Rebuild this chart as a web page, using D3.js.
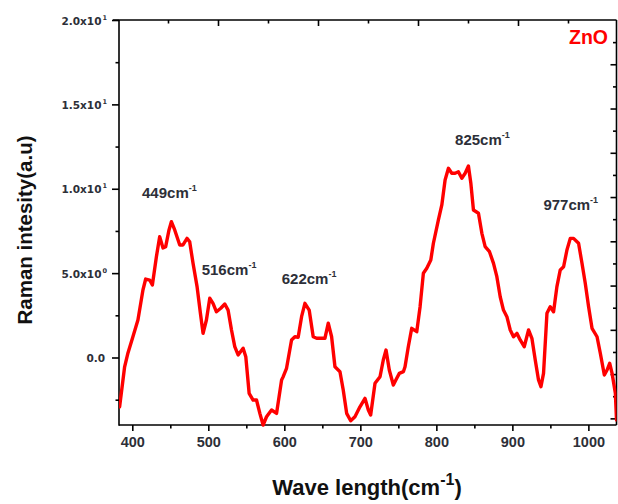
<!DOCTYPE html>
<html>
<head>
<meta charset="utf-8">
<script src="https://cdn.jsdelivr.net/npm/d3@7"></script>
<style>
  html, body { margin: 0; padding: 0; background: #fff; }
  svg { display: block; }
</style>
</head>
<body>
<svg id="chart" width="618" height="504"></svg>
<script>
// ---- data ----
const wavenumber = [383.3, 389.9, 394.3, 400.8, 407.4, 414.0, 417.6, 422.8, 426.4, 431.7, 436.0, 440.4, 443.9, 448.3, 451.4, 455.8, 462.4, 466.7, 472.0, 475.5, 479.9, 485.2, 489.6, 493.1, 497.5, 501.9, 506.2, 510.7, 516.4, 521.7, 526.0, 530.5, 534.8, 539.2, 545.8, 549.3, 553.7, 558.9, 563.4, 567.8, 572.1, 576.6, 583.2, 589.8, 596.4, 598.5, 602.9, 609.5, 613.9, 618.2, 622.7, 627.1, 632.7, 638.0, 642.5, 649.1, 653.4, 657.8, 662.2, 666.6, 673.2, 677.5, 682.0, 687.3, 692.9, 699.5, 706.1, 710.5, 713.6, 719.3, 725.9, 730.2, 733.8, 738.1, 743.4, 747.9, 751.3, 756.6, 758.8, 763.1, 767.6, 774.2, 778.6, 782.9, 787.4, 792.7, 796.1, 802.7, 807.2, 811.5, 815.9, 820.3, 824.7, 829.0, 833.5, 837.9, 842.2, 845.4, 848.8, 855.4, 859.9, 864.2, 869.9, 875.2, 879.6, 884.0, 888.3, 892.8, 897.2, 901.5, 906.0, 910.3, 915.6, 921.3, 925.7, 930.1, 934.4, 937.6, 941.0, 945.5, 949.8, 954.2, 958.6, 963.0, 967.4, 971.8, 976.2, 980.5, 987.1, 991.6, 995.9, 1000.3, 1004.8, 1011.4, 1015.7, 1021.0, 1024.6, 1028.0, 1031.2, 1035.5, 1037.0];
const intensity = [-2.92, -0.55, 0.27, 1.23, 2.22, 4.00, 4.65, 4.59, 4.30, 5.97, 7.16, 6.49, 6.57, 7.56, 8.05, 7.56, 6.67, 6.67, 7.06, 6.86, 5.58, 4.20, 2.62, 1.43, 2.22, 3.51, 3.21, 2.71, 2.92, 3.17, 2.81, 1.63, 0.64, 0.15, 0.55, 0.05, -2.12, -2.52, -2.52, -3.31, -4.00, -3.51, -3.11, -3.31, -1.33, -1.14, -0.64, 1.04, 1.23, 1.20, 2.42, 3.21, 2.81, 1.23, 1.14, 1.14, 1.14, 2.03, 1.23, -0.55, -0.84, -1.93, -3.31, -3.75, -3.51, -2.92, -2.42, -3.11, -3.41, -1.53, -1.14, -0.15, 0.44, -0.74, -1.63, -1.23, -0.94, -0.84, -0.55, 0.64, 1.73, 1.53, 3.01, 4.99, 5.29, 5.78, 6.77, 8.15, 9.04, 10.52, 11.21, 10.92, 10.92, 11.01, 10.62, 10.92, 11.35, 10.32, 8.74, 8.55, 7.36, 6.57, 6.27, 5.58, 4.79, 3.60, 2.81, 2.42, 1.63, 1.23, 1.43, 1.04, 0.64, 1.63, 1.14, -0.15, -1.33, -1.73, -0.94, 2.62, 3.01, 2.71, 4.20, 5.19, 5.38, 6.37, 7.06, 7.06, 6.77, 5.58, 4.40, 3.01, 1.73, 1.23, 0.25, -1.04, -0.74, -0.34, -0.94, -2.12, -3.70];

const xTickValues = [400, 500, 600, 700, 800, 900, 1000];
const xMinorTicks = [450, 550, 650, 750, 850, 950];
const yTickValues = [0, 5, 10, 15, 20];
const yTickMantissa = ["0.0", "5.0", "1.0", "1.5", "2.0"];
const yTickExponent = [null, "0", "1", "1", "1"];
const yMinorTicks = [-2.5, 2.5, 7.5, 12.5, 17.5];

const peakLabels = ["449", "516", "622", "825", "977"];
const peakLabelX = [412.8, 491.3, 596.6, 824.6, 940.8];
const peakLabelY = [9.45, 4.89, 4.36, 12.59, 8.74];

const seriesName = "ZnO";
const xTitle = "Wave length(cm";
const yTitle = "Raman intesity(a.u)";

// ---- layout ----
const svg = d3.select("#chart");
const L = 119, R = 616.5, T = 20, B = 425;

const x = d3.scaleLinear().domain([382.5, 1037]).range([L, R]);
const y = d3.scaleLinear().domain([-4, 20]).range([B, T]);
// secondary (unlabelled) top/right axes as drawn by the original software
const xTop = d3.scaleLinear().domain([0, 10]).range([118, 618]);
const yRight = d3.scaleLinear().domain([0, 18.3]).range([T, B]);

const axisColor = "#000";
const labelColor = "#2d2f38";

svg.append("defs").append("clipPath").attr("id", "clip")
  .append("rect").attr("x", L).attr("y", T - 2).attr("width", R - L).attr("height", B - T + 4);

// frame
const frame = svg.append("g").attr("stroke", axisColor).attr("stroke-width", 1.6).attr("fill", "none");
frame.append("line").attr("x1", L).attr("x2", L).attr("y1", T).attr("y2", B + 0.8);
frame.append("line").attr("x1", L).attr("x2", R).attr("y1", B).attr("y2", B);
frame.append("line").attr("x1", L - 6).attr("x2", R).attr("y1", T).attr("y2", T);
frame.append("line").attr("x1", R).attr("x2", R).attr("y1", T).attr("y2", B);

// bottom axis
const bottomAx = svg.append("g").attr("transform", `translate(0,${B})`)
  .call(d3.axisBottom(x).tickValues(xTickValues).tickSize(6).tickPadding(6).tickFormat(d3.format("d")));
bottomAx.select(".domain").remove();
bottomAx.selectAll(".tick line").attr("stroke-width", 1.6).attr("stroke", axisColor);
bottomAx.selectAll(".tick text").attr("font-family", "Liberation Sans, Arial, sans-serif")
  .attr("font-size", 14.5).attr("font-weight", "bold").attr("fill", labelColor).attr("dy", "0.72em");
const bMinor = svg.append("g").attr("transform", `translate(0,${B})`)
  .call(d3.axisBottom(x).tickValues(xMinorTicks).tickSize(3.5).tickFormat(""));
bMinor.select(".domain").remove();
bMinor.selectAll(".tick line").attr("stroke-width", 1.6);

// left axis
const leftAx = svg.append("g").attr("transform", `translate(${L},0)`)
  .call(d3.axisLeft(y).tickValues(yTickValues).tickSize(7).tickFormat(""));
leftAx.select(".domain").remove();
leftAx.selectAll(".tick line").attr("stroke-width", 1.6);
const lMinor = svg.append("g").attr("transform", `translate(${L},0)`)
  .call(d3.axisLeft(y).tickValues(yMinorTicks).tickSize(3.5).tickFormat(""));
lMinor.select(".domain").remove();
lMinor.selectAll(".tick line").attr("stroke-width", 1.6);

const yl = svg.append("g").attr("font-family", "DejaVu Sans, sans-serif").attr("font-weight", "bold")
  .attr("font-size", 10.5).attr("fill", labelColor);
yTickValues.forEach((v, i) => {
  const t = yl.append("text").attr("text-anchor", "end")
    .attr("x", yTickExponent[i] ? 107 : 105).attr("y", y(v) + 4.5);
  t.append("tspan").text(yTickMantissa[i] + (yTickExponent[i] ? "x10" : ""));
  if (yTickExponent[i]) {
    t.append("tspan").attr("font-size", 6.5).attr("dy", -5).attr("dx", 1).text(yTickExponent[i]);
  }
});

// top axis (inward ticks)
const topAx = svg.append("g").attr("transform", `translate(0,${T})`)
  .call(d3.axisBottom(xTop).tickValues(d3.range(1, 10)).tickSize(0).tickFormat(""));
topAx.select(".domain").remove();
topAx.selectAll(".tick line").attr("y2", d => d % 2 === 0 ? 6 : 3.5).attr("stroke-width", 1.6);

// right axis (inward ticks)
const rightAx = svg.append("g").attr("transform", `translate(${R},0)`)
  .call(d3.axisRight(yRight).tickValues(d3.range(1, 19)).tickSize(0).tickFormat(""));
rightAx.select(".domain").remove();
rightAx.selectAll(".tick line").attr("x2", d => d % 2 === 0 ? -6 : -3.5).attr("stroke-width", 1.6);

// series line
const pts = wavenumber.map((w, i) => [w, intensity[i]]);
svg.append("path").datum(pts)
  .attr("clip-path", "url(#clip)")
  .attr("fill", "none").attr("stroke", "#ff0000").attr("stroke-width", 3.4)
  .attr("stroke-linejoin", "round").attr("stroke-linecap", "round")
  .attr("d", d3.line().x(d => x(d[0])).y(d => y(d[1])));

// peak annotations
const ann = svg.append("g").attr("font-family", "Liberation Sans, Arial, sans-serif")
  .attr("font-weight", "bold").attr("fill", labelColor);
peakLabels.forEach((p, i) => {
  const t = ann.append("text").attr("x", x(peakLabelX[i])).attr("y", y(peakLabelY[i])).attr("font-size", 15);
  t.append("tspan").text(p + "cm");
  t.append("tspan").attr("font-size", 9).attr("dy", -7).text("-1");
});

// series name
svg.append("text").attr("x", 569).attr("y", 44).attr("font-family", "Liberation Sans, Arial, sans-serif")
  .attr("font-weight", "bold").attr("font-size", 19.5).attr("fill", "#ff0000").text(seriesName);

// axis titles
const xt = svg.append("text").attr("x", 367).attr("y", 495).attr("text-anchor", "middle")
  .attr("font-family", "Liberation Sans, Arial, sans-serif").attr("font-weight", "bold")
  .attr("font-size", 22).attr("fill", "#111");
xt.append("tspan").text(xTitle);
xt.append("tspan").attr("font-size", 16).attr("dy", -10).text("-1");
xt.append("tspan").attr("dy", 10).text(")");

svg.append("text").attr("transform", "translate(32,230) rotate(-90)").attr("text-anchor", "middle")
  .attr("font-family", "Liberation Sans, Arial, sans-serif").attr("font-weight", "bold")
  .attr("font-size", 20.5).attr("fill", "#111").text(yTitle);
</script>
</body>
</html>
